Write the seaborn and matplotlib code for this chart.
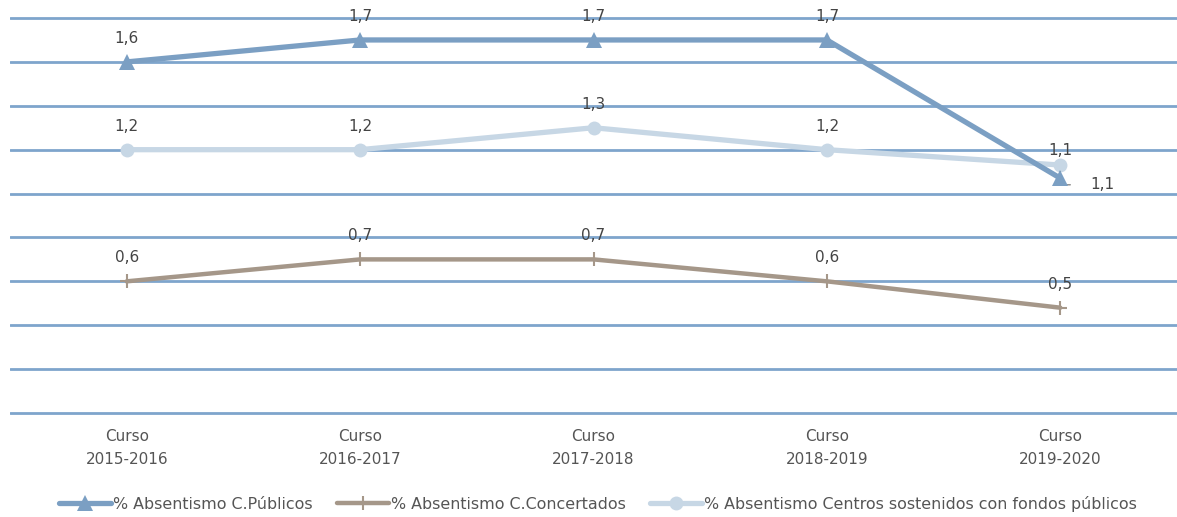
import matplotlib
matplotlib.use("Agg")
import matplotlib.pyplot as plt
import seaborn as sns
import pandas as pd
import numpy as np

categories = ["Curso\n2015-2016", "Curso\n2016-2017", "Curso\n2017-2018", "Curso\n2018-2019", "Curso\n2019-2020"]
publicos = [1.6, 1.7, 1.7, 1.7, 1.07]
concertados = [0.6, 0.7, 0.7, 0.6, 0.48]
sostenidos = [1.2, 1.2, 1.3, 1.2, 1.13]
series_names = ["% Absentismo C.Públicos", "% Absentismo C.Concertados",
                "% Absentismo Centros sostenidos con fondos públicos"]

sns.set_theme(style="white")
plt.rcParams['font.family'] = ['DejaVu Sans']

fig = plt.figure(figsize=(11.77, 5.17), dpi=100)
ax = fig.add_axes([10/1177, 0.1969, 1 - 10/1177, 0.7725])

x = np.arange(len(categories))
grid_color = "#7ea5cc"
for yv in np.arange(0, 1.81, 0.2):
    ax.axhline(yv, color=grid_color, lw=2, zorder=0)

col_pub = "#7b9fc3"
col_con = "#a59789"
col_sos = "#c7d7e5"

df = pd.DataFrame({"x": np.tile(x, 3),
                   "y": publicos + concertados + sostenidos,
                   "serie": np.repeat(series_names, len(x))})

sns.lineplot(data=df[df.serie == series_names[0]], x="x", y="y", ax=ax, color=col_pub,
             lw=3.8, marker="^", markersize=11, markeredgewidth=0, label=series_names[0], zorder=4)
sns.lineplot(data=df[df.serie == series_names[1]], x="x", y="y", ax=ax, color=col_con,
             lw=3.2, marker="+", markersize=10, markeredgewidth=1.5, markeredgecolor=col_con,
             label=series_names[1], zorder=3)
sns.lineplot(data=df[df.serie == series_names[2]], x="x", y="y", ax=ax, color=col_sos,
             lw=3.8, marker="o", markersize=10, markeredgewidth=0, label=series_names[2], zorder=3)

def fmt(v):
    return f"{v:.1f}".replace(".", ",")

lab_kw = dict(ha="center", va="center", fontsize=11, color="#444444")
off = 0.107
for i in range(len(x)):
    if i < 4:
        ax.text(x[i], publicos[i] + off, fmt(publicos[i]), **lab_kw)
        ax.text(x[i], sostenidos[i] + off, fmt(sostenidos[i]), **lab_kw)
    else:
        ax.text(x[i], sostenidos[i] + 0.065, fmt(sostenidos[i]), **lab_kw)
    ax.text(x[i], concertados[i] + off, fmt(concertados[i]), **lab_kw)

ax.annotate(fmt(publicos[4]), xy=(x[4], publicos[4] + 0.03), xytext=(x[4] + 0.18, publicos[4] - 0.03),
            ha="center", va="center", fontsize=11, color="#444444",
            arrowprops=dict(arrowstyle="-", color="#888888", lw=1, connectionstyle="angle,angleA=0,angleB=70",
                            shrinkA=12, shrinkB=0))

ax.set_xlim(-0.5, 4.5)
ax.set_ylim(-0.01, 1.81)
ax.set_xticks(x)
ax.set_xticklabels(categories, fontsize=11, color="#555555", linespacing=1.65)
ax.set_yticks([])
ax.set_xlabel("")
ax.set_ylabel("")
ax.tick_params(axis="x", length=0, pad=10)
for s in ax.spines.values():
    s.set_visible(False)
ax.patch.set_alpha(0)

ax.get_legend().remove()
handles, labels = ax.get_legend_handles_labels()
fig.legend(handles, labels, loc="center", bbox_to_anchor=(0.508, 0.026), ncol=3, frameon=False,
           fontsize=11.4, labelcolor="#555555", handlelength=3.3, handletextpad=0.15, columnspacing=1.5)

fig.savefig("out.png", dpi=100)
